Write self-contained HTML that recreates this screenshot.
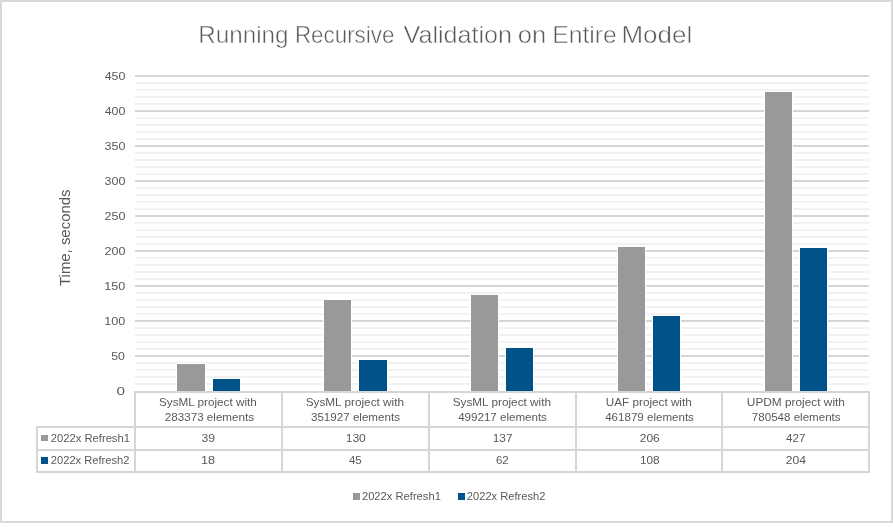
<!DOCTYPE html><html><head><meta charset="utf-8"><style>html,body{margin:0;padding:0;background:#fff;}svg{display:block;}text{font-family:"Liberation Sans", sans-serif;}</style></head><body>
<svg width="893" height="527" viewBox="0 0 893 527">
<rect x="0" y="0" width="893" height="527" fill="#fff"/>
<rect x="1" y="1" width="891" height="521" fill="none" stroke="#d9d9d9" stroke-width="2"/>
<rect x="135" y="383" width="734" height="2" fill="#f2f2f2"/>
<rect x="135" y="376" width="734" height="2" fill="#f2f2f2"/>
<rect x="135" y="369" width="734" height="2" fill="#f2f2f2"/>
<rect x="135" y="362" width="734" height="2" fill="#f2f2f2"/>
<rect x="135" y="348" width="734" height="2" fill="#f2f2f2"/>
<rect x="135" y="341" width="734" height="2" fill="#f2f2f2"/>
<rect x="135" y="334" width="734" height="2" fill="#f2f2f2"/>
<rect x="135" y="327" width="734" height="2" fill="#f2f2f2"/>
<rect x="135" y="313" width="734" height="2" fill="#f2f2f2"/>
<rect x="135" y="306" width="734" height="2" fill="#f2f2f2"/>
<rect x="135" y="299" width="734" height="2" fill="#f2f2f2"/>
<rect x="135" y="292" width="734" height="2" fill="#f2f2f2"/>
<rect x="135" y="278" width="734" height="2" fill="#f2f2f2"/>
<rect x="135" y="271" width="734" height="2" fill="#f2f2f2"/>
<rect x="135" y="264" width="734" height="2" fill="#f2f2f2"/>
<rect x="135" y="257" width="734" height="2" fill="#f2f2f2"/>
<rect x="135" y="243" width="734" height="2" fill="#f2f2f2"/>
<rect x="135" y="236" width="734" height="2" fill="#f2f2f2"/>
<rect x="135" y="229" width="734" height="2" fill="#f2f2f2"/>
<rect x="135" y="222" width="734" height="2" fill="#f2f2f2"/>
<rect x="135" y="208" width="734" height="2" fill="#f2f2f2"/>
<rect x="135" y="201" width="734" height="2" fill="#f2f2f2"/>
<rect x="135" y="194" width="734" height="2" fill="#f2f2f2"/>
<rect x="135" y="187" width="734" height="2" fill="#f2f2f2"/>
<rect x="135" y="173" width="734" height="2" fill="#f2f2f2"/>
<rect x="135" y="166" width="734" height="2" fill="#f2f2f2"/>
<rect x="135" y="159" width="734" height="2" fill="#f2f2f2"/>
<rect x="135" y="152" width="734" height="2" fill="#f2f2f2"/>
<rect x="135" y="138" width="734" height="2" fill="#f2f2f2"/>
<rect x="135" y="131" width="734" height="2" fill="#f2f2f2"/>
<rect x="135" y="124" width="734" height="2" fill="#f2f2f2"/>
<rect x="135" y="117" width="734" height="2" fill="#f2f2f2"/>
<rect x="135" y="103" width="734" height="2" fill="#f2f2f2"/>
<rect x="135" y="96" width="734" height="2" fill="#f2f2f2"/>
<rect x="135" y="89" width="734" height="2" fill="#f2f2f2"/>
<rect x="135" y="82" width="734" height="2" fill="#f2f2f2"/>
<rect x="135" y="355" width="734" height="2" fill="#d5d5d5"/>
<rect x="135" y="320" width="734" height="2" fill="#d5d5d5"/>
<rect x="135" y="285" width="734" height="2" fill="#d5d5d5"/>
<rect x="135" y="250" width="734" height="2" fill="#d5d5d5"/>
<rect x="135" y="215" width="734" height="2" fill="#d5d5d5"/>
<rect x="135" y="180" width="734" height="2" fill="#d5d5d5"/>
<rect x="135" y="145" width="734" height="2" fill="#d5d5d5"/>
<rect x="135" y="110" width="734" height="2" fill="#d5d5d5"/>
<rect x="135" y="75" width="734" height="2" fill="#d5d5d5"/>
<rect x="176" y="363" width="30" height="28" fill="#fff"/>
<rect x="177" y="364" width="28" height="27" fill="#98999b"/>
<rect x="212" y="378" width="29" height="13" fill="#fff"/>
<rect x="213" y="379" width="27" height="12" fill="#02528a"/>
<rect x="323" y="299" width="29" height="92" fill="#fff"/>
<rect x="324" y="300" width="27" height="91" fill="#98999b"/>
<rect x="358" y="359" width="30" height="32" fill="#fff"/>
<rect x="359" y="360" width="28" height="31" fill="#02528a"/>
<rect x="470" y="294" width="29" height="97" fill="#fff"/>
<rect x="471" y="295" width="27" height="96" fill="#98999b"/>
<rect x="505" y="347" width="29" height="44" fill="#fff"/>
<rect x="506" y="348" width="27" height="43" fill="#02528a"/>
<rect x="617" y="246" width="29" height="145" fill="#fff"/>
<rect x="618" y="247" width="27" height="144" fill="#98999b"/>
<rect x="652" y="315" width="29" height="76" fill="#fff"/>
<rect x="653" y="316" width="27" height="75" fill="#02528a"/>
<rect x="764" y="91" width="29" height="300" fill="#fff"/>
<rect x="765" y="92" width="27" height="299" fill="#98999b"/>
<rect x="799" y="247" width="29" height="144" fill="#fff"/>
<rect x="800" y="248" width="27" height="143" fill="#02528a"/>
<rect x="134" y="391" width="736" height="2" fill="#d6d6d6"/>
<rect x="36" y="426" width="834" height="2" fill="#d6d6d6"/>
<rect x="36" y="449" width="834" height="2" fill="#d6d6d6"/>
<rect x="36" y="471" width="834" height="2" fill="#d6d6d6"/>
<rect x="36" y="426" width="2" height="47" fill="#d6d6d6"/>
<rect x="134" y="391" width="2" height="82" fill="#d6d6d6"/>
<rect x="281" y="391" width="2" height="82" fill="#d6d6d6"/>
<rect x="428" y="391" width="2" height="82" fill="#d6d6d6"/>
<rect x="575" y="391" width="2" height="82" fill="#d6d6d6"/>
<rect x="721" y="391" width="2" height="82" fill="#d6d6d6"/>
<rect x="868" y="391" width="2" height="82" fill="#d6d6d6"/>
<rect x="41" y="435" width="7" height="6" fill="#98999b"/>
<rect x="41" y="457" width="7" height="7" fill="#02528a"/>
<rect x="353" y="493" width="7" height="7" fill="#98999b"/>
<rect x="458" y="493" width="7" height="7" fill="#02528a"/>
<g style="filter:grayscale(1)">
<text id="t0" x="198.31" y="42.80" font-size="24" fill="#595959" textLength="90.18" lengthAdjust="spacingAndGlyphs" stroke="#fff" stroke-width="0.5">Running</text>
<text id="t1" x="294.92" y="42.80" font-size="24" fill="#595959" textLength="99.49" lengthAdjust="spacingAndGlyphs" stroke="#fff" stroke-width="0.5">Recursive</text>
<text id="t2" x="403.61" y="42.80" font-size="24" fill="#595959" textLength="108.40" lengthAdjust="spacingAndGlyphs" stroke="#fff" stroke-width="0.5">Validation</text>
<text id="t3" x="517.88" y="42.80" font-size="24" fill="#595959" textLength="28.35" lengthAdjust="spacingAndGlyphs" stroke="#fff" stroke-width="0.5">on</text>
<text id="t4" x="552.28" y="42.80" font-size="24" fill="#595959" textLength="64.58" lengthAdjust="spacingAndGlyphs" stroke="#fff" stroke-width="0.5">Entire</text>
<text id="t5" x="621.46" y="42.80" font-size="24" fill="#595959" textLength="70.75" lengthAdjust="spacingAndGlyphs" stroke="#fff" stroke-width="0.5">Model</text>
<text id="y0" x="116.48" y="395.20" font-size="11.5" fill="#595959" textLength="8.48" lengthAdjust="spacingAndGlyphs">0</text>
<text id="y50" x="111.23" y="360.20" font-size="11.5" fill="#595959" textLength="13.66" lengthAdjust="spacingAndGlyphs">50</text>
<text id="y100" x="104.27" y="325.20" font-size="11.5" fill="#595959" textLength="21.07" lengthAdjust="spacingAndGlyphs">100</text>
<text id="y150" x="104.27" y="290.20" font-size="11.5" fill="#595959" textLength="21.07" lengthAdjust="spacingAndGlyphs">150</text>
<text id="y200" x="104.49" y="255.20" font-size="11.5" fill="#595959" textLength="20.98" lengthAdjust="spacingAndGlyphs">200</text>
<text id="y250" x="104.49" y="220.20" font-size="11.5" fill="#595959" textLength="20.98" lengthAdjust="spacingAndGlyphs">250</text>
<text id="y300" x="104.60" y="185.20" font-size="11.5" fill="#595959" textLength="20.90" lengthAdjust="spacingAndGlyphs">300</text>
<text id="y350" x="104.60" y="150.20" font-size="11.5" fill="#595959" textLength="20.90" lengthAdjust="spacingAndGlyphs">350</text>
<text id="y400" x="104.72" y="115.20" font-size="11.5" fill="#595959" textLength="20.71" lengthAdjust="spacingAndGlyphs">400</text>
<text id="y450" x="104.72" y="80.20" font-size="11.5" fill="#595959" textLength="20.71" lengthAdjust="spacingAndGlyphs">450</text>
<text id="c0a" x="159.05" y="406.00" font-size="11" fill="#595959" textLength="97.72" lengthAdjust="spacingAndGlyphs">SysML project with</text>
<text id="c0b" x="164.86" y="420.60" font-size="11" fill="#595959" textLength="89.12" lengthAdjust="spacingAndGlyphs">283373 elements</text>
<text id="c1a" x="305.67" y="406.00" font-size="11" fill="#595959" textLength="98.36" lengthAdjust="spacingAndGlyphs">SysML project with</text>
<text id="c1b" x="310.95" y="420.60" font-size="11" fill="#595959" textLength="89.04" lengthAdjust="spacingAndGlyphs">351927 elements</text>
<text id="c2a" x="452.67" y="406.00" font-size="11" fill="#595959" textLength="98.36" lengthAdjust="spacingAndGlyphs">SysML project with</text>
<text id="c2b" x="458.19" y="420.60" font-size="11" fill="#595959" textLength="88.72" lengthAdjust="spacingAndGlyphs">499217 elements</text>
<text id="c3a" x="605.87" y="406.00" font-size="11" fill="#595959" textLength="85.86" lengthAdjust="spacingAndGlyphs">UAF project with</text>
<text id="c3b" x="605.19" y="420.60" font-size="11" fill="#595959" textLength="88.72" lengthAdjust="spacingAndGlyphs">461879 elements</text>
<text id="c4a" x="746.83" y="406.00" font-size="11" fill="#595959" textLength="98.06" lengthAdjust="spacingAndGlyphs">UPDM project with</text>
<text id="c4b" x="751.87" y="420.60" font-size="11" fill="#595959" textLength="88.71" lengthAdjust="spacingAndGlyphs">780548 elements</text>
<text id="v00" x="201.50" y="442.20" font-size="11.5" fill="#595959" textLength="13.56" lengthAdjust="spacingAndGlyphs">39</text>
<text id="v10" x="200.97" y="464.00" font-size="11.5" fill="#595959" textLength="14.15" lengthAdjust="spacingAndGlyphs">18</text>
<text id="v01" x="345.67" y="442.20" font-size="11.5" fill="#595959" textLength="20.20" lengthAdjust="spacingAndGlyphs">130</text>
<text id="v11" x="348.91" y="464.00" font-size="11.5" fill="#595959" textLength="12.71" lengthAdjust="spacingAndGlyphs">45</text>
<text id="v02" x="492.72" y="442.20" font-size="11.5" fill="#595959" textLength="19.82" lengthAdjust="spacingAndGlyphs">137</text>
<text id="v12" x="495.89" y="464.00" font-size="11.5" fill="#595959" textLength="12.79" lengthAdjust="spacingAndGlyphs">62</text>
<text id="v03" x="639.81" y="442.20" font-size="11.5" fill="#595959" textLength="19.99" lengthAdjust="spacingAndGlyphs">206</text>
<text id="v13" x="639.99" y="464.00" font-size="11.5" fill="#595959" textLength="19.69" lengthAdjust="spacingAndGlyphs">108</text>
<text id="v04" x="785.91" y="442.20" font-size="11.5" fill="#595959" textLength="19.48" lengthAdjust="spacingAndGlyphs">427</text>
<text id="v14" x="785.66" y="464.00" font-size="11.5" fill="#595959" textLength="20.26" lengthAdjust="spacingAndGlyphs">204</text>
<text id="rf1" x="50.83" y="442.20" font-size="11" fill="#595959" textLength="79.11" lengthAdjust="spacingAndGlyphs">2022x Refresh1</text>
<text id="rf2" x="50.83" y="464.20" font-size="11" fill="#595959" textLength="78.66" lengthAdjust="spacingAndGlyphs">2022x Refresh2</text>
<text id="lg1" x="361.94" y="499.90" font-size="11" fill="#595959" textLength="78.92" lengthAdjust="spacingAndGlyphs">2022x Refresh1</text>
<text id="lg2" x="466.86" y="499.90" font-size="11" fill="#595959" textLength="78.50" lengthAdjust="spacingAndGlyphs">2022x Refresh2</text>
<text id="axis" x="0" y="0" font-size="14" fill="#595959" textLength="96.50" lengthAdjust="spacingAndGlyphs" transform="translate(69.80,286.00) rotate(-90)">Time, seconds</text>
</g>
</svg></body></html>
